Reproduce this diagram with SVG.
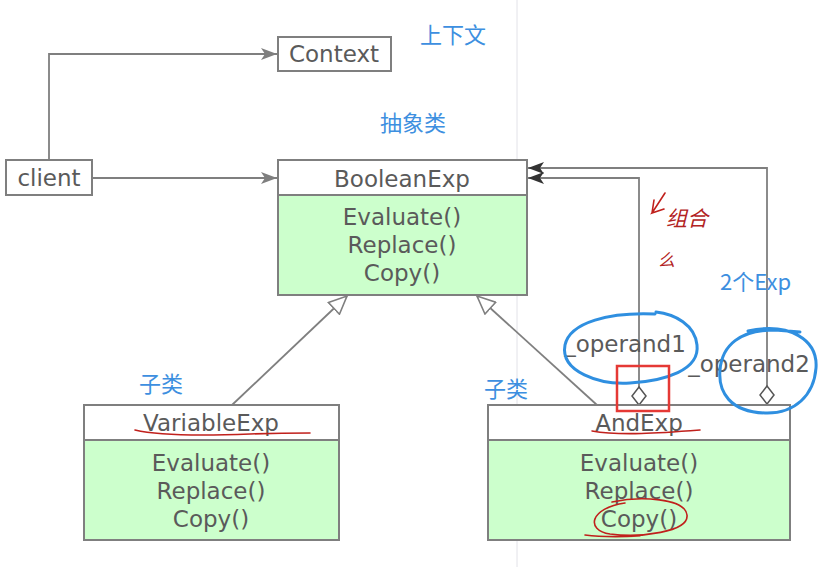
<svg xmlns="http://www.w3.org/2000/svg" width="826" height="567" viewBox="0 0 826 567">
<style>
.box{fill:#fff;stroke:#7f7f7f;stroke-width:2}
.body{fill:#ccffcc;stroke:#7f7f7f;stroke-width:2}
.t{font-family:"DejaVu Sans",sans-serif;font-size:23px;fill:#5a5a5a;text-anchor:middle}
.cn{font-family:"Noto Sans CJK SC",sans-serif;font-size:22px;fill:#3d8fe0}
.ln{fill:none;stroke:#7f7f7f;stroke-width:1.8}
.blue{fill:none;stroke:#2f8fe0;stroke-width:3;stroke-linecap:round}
.red{fill:none;stroke:#c0201c;stroke-width:1.6;stroke-linecap:round}
</style>
<defs>
<marker id="arr" viewBox="0 0 16 12" refX="16" refY="6" markerWidth="16" markerHeight="12" markerUnits="userSpaceOnUse" orient="auto">
<path d="M0,0 L16,6 L0,12 L4,6 Z" fill="#7f7f7f"/>
</marker>
<marker id="arrd" viewBox="0 0 16 12" refX="16" refY="6" markerWidth="16" markerHeight="12" markerUnits="userSpaceOnUse" orient="auto">
<path d="M0,0 L16,6 L0,12 L4,6 Z" fill="#333"/>
</marker>
<marker id="tri" viewBox="0 0 20 18" refX="19" refY="9" markerWidth="20" markerHeight="18" markerUnits="userSpaceOnUse" orient="auto">
<path d="M1,1 L19,9 L1,17 Z" fill="#fff" stroke="#7f7f7f" stroke-width="1.6"/>
</marker>
</defs>
<rect width="826" height="567" fill="#fff"/>
<line x1="517" y1="0" x2="517" y2="567" stroke="#e2e2e8" stroke-width="1"/>

<g id="connectors">
<polyline class="ln" points="49,160 49,54 277,54" marker-end="url(#arr)"/>
<line class="ln" x1="92" y1="178" x2="277" y2="178" marker-end="url(#arr)"/>
<line class="ln" x1="232" y1="405" x2="347" y2="296" marker-end="url(#tri)"/>
<line class="ln" x1="597" y1="405" x2="477" y2="296" marker-end="url(#tri)"/>
<polyline class="ln" points="639,387 639,178 528,178" marker-end="url(#arrd)"/>
<polyline class="ln" points="767,386 767,168 528,168" marker-end="url(#arrd)"/>
<path d="M639,387 L646,396 L639,405 L632,396 Z" fill="#fff" stroke="#555" stroke-width="1.5"/>
<path d="M767,386 L774,395 L767,404 L760,395 Z" fill="#fff" stroke="#555" stroke-width="1.5"/>
<text class="t" x="625" y="352">_operand1</text>
<text class="t" x="749" y="372">_operand2</text>
</g>

<g id="context">
<rect class="box" x="278" y="37" width="113" height="34"/>
<text class="t" x="334" y="62">Context</text>
</g>
<g id="client">
<rect class="box" x="6" y="160" width="86" height="35"/>
<text class="t" x="49" y="186">client</text>
</g>
<g id="booleanexp">
<rect class="box" x="278" y="160" width="249" height="35"/>
<rect class="body" x="278" y="195" width="249" height="100"/>
<text class="t" x="402" y="187">BooleanExp</text>
<text class="t" x="402" y="225">Evaluate()</text>
<text class="t" x="402" y="253">Replace()</text>
<text class="t" x="402" y="281">Copy()</text>
</g>
<g id="variableexp">
<rect class="box" x="84" y="405" width="255" height="35"/>
<rect class="body" x="84" y="440" width="255" height="100"/>
<text class="t" x="211" y="431">VariableExp</text>
<text class="t" x="211" y="471">Evaluate()</text>
<text class="t" x="211" y="499">Replace()</text>
<text class="t" x="211" y="527">Copy()</text>
</g>
<g id="andexp">
<rect class="box" x="488" y="405" width="302" height="35"/>
<rect class="body" x="488" y="440" width="302" height="100"/>
<text class="t" x="639" y="431">AndExp</text>
<text class="t" x="639" y="471">Evaluate()</text>
<text class="t" x="639" y="499">Replace()</text>
<text class="t" x="639" y="527">Copy()</text>
</g>

<g id="annotations">
<text class="cn" x="420" y="43">上下文</text>
<text class="cn" x="380" y="131">抽象类</text>
<text class="cn" x="720" y="290">2个Exp</text>
<text class="cn" x="139" y="392">子类</text>
<text class="cn" x="484" y="397">子类</text>
<path class="blue" d="M655,314 C610,312 570,322 565,345 C560,372 600,385 630,383 C665,381 700,370 697,345 C695,325 675,314 656,312"/>
<path class="blue" d="M748,331 C790,322 818,340 816,368 C814,395 795,414 765,413 C730,412 718,392 720,370 C722,345 740,330 775,330 L800,332"/>
<rect x="617" y="366" width="52" height="45" fill="none" stroke="#e53935" stroke-width="2.5"/>
<path class="red" d="M135,430 C160,436 200,436 250,434 C280,433 300,433 310,433"/>
<path class="red" d="M592,431 C620,436 660,433 700,430"/>
<path class="red" d="M612,502 C640,496 685,498 687,515 C689,532 640,538 610,534 C585,530 590,508 625,503 M585,535 C600,537 620,537 640,536"/>
<path class="red" d="M665,193 L652,213 L664,209 M652,213 L654,200"/>
<text x="666" y="226" font-family="Noto Sans CJK SC,sans-serif" font-size="21" fill="#b22222" font-style="italic">组合</text>
<text x="658" y="266" font-family="Noto Sans CJK SC,sans-serif" font-size="17" fill="#b22222" font-style="italic">么</text>
</g>
</svg>
